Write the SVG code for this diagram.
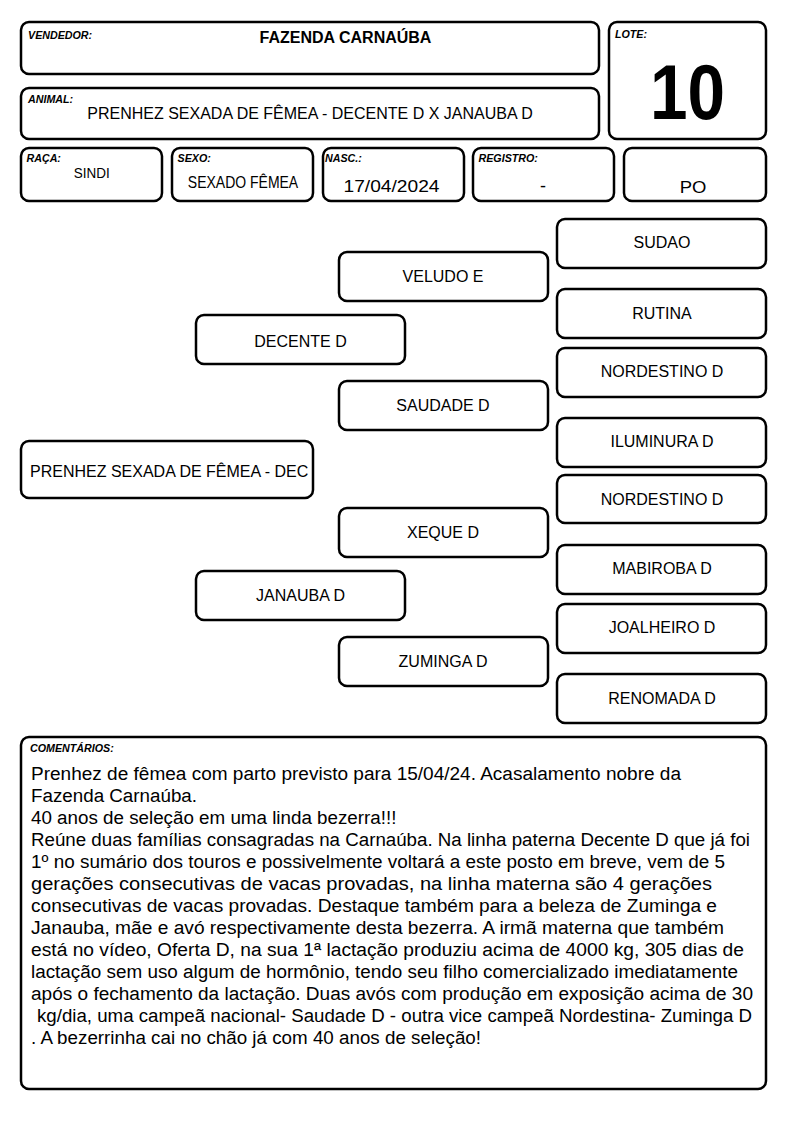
<svg xmlns="http://www.w3.org/2000/svg" width="794" height="1123" viewBox="0 0 794 1123">
<style>
.box{fill:#fff;stroke:#000;stroke-width:2.5}
.lab{font-family:"Liberation Sans",Arial,sans-serif;font-weight:bold;font-style:italic;font-size:10.7px;fill:#000}
.val{font-family:"Liberation Sans",Arial,sans-serif;fill:#000}
.node{font-family:"Liberation Sans",Arial,sans-serif;font-size:16px;fill:#000;text-anchor:middle}
.body{font-family:"Liberation Sans",Arial,sans-serif;font-size:18.8px;fill:#000}
</style>
<rect width="794" height="1123" fill="#fff"/>
<g id="vendedor">
<rect class="box" x="21" y="22" width="578" height="52" rx="8"/>
<text class="lab" x="28" y="39">VENDEDOR:</text>
<text class="val" x="345.5" y="43" font-size="16" font-weight="bold" text-anchor="middle">FAZENDA CARNAÚBA</text>
</g>
<g id="lote">
<rect class="box" x="609" y="22" width="157" height="117" rx="8"/>
<text class="lab" x="615" y="38">LOTE:</text>
<text class="val" transform="matrix(1 0 0 1.15 687.5 119)" font-size="67.5" font-weight="bold" text-anchor="middle">10</text>
</g>
<g id="animal">
<rect class="box" x="21" y="88" width="578" height="51" rx="8"/>
<text class="lab" x="28" y="103">ANIMAL:</text>
<text class="val" x="310" y="119" font-size="16" text-anchor="middle">PRENHEZ SEXADA DE FÊMEA - DECENTE D X JANAUBA D</text>
</g>
<g id="raca">
<rect class="box" x="21" y="148" width="141" height="53" rx="8"/>
<text class="lab" x="26.5" y="162">RAÇA:</text>
<text class="val" transform="matrix(1 0 0 1.15 91.7 178)" font-size="13.5" text-anchor="middle">SINDI</text>
</g>
<g id="sexo">
<rect class="box" x="172" y="148" width="141" height="53" rx="8"/>
<text class="lab" x="177.5" y="162">SEXO:</text>
<text class="val" transform="matrix(1 0 0 1.15 243 188)" font-size="14" text-anchor="middle">SEXADO FÊMEA</text>
</g>
<g id="nasc">
<rect class="box" x="323" y="148" width="141" height="53" rx="8"/>
<text class="lab" x="325" y="162">NASC.:</text>
<text class="val" transform="matrix(1 0 0 0.9 391.5 192)" font-size="19.2" text-anchor="middle">17/04/2024</text>
</g>
<g id="registro">
<rect class="box" x="473" y="148" width="141" height="53" rx="8"/>
<text class="lab" x="478.5" y="162">REGISTRO:</text>
<text class="val" x="543" y="192" font-size="18" text-anchor="middle">-</text>
</g>
<g id="po">
<rect class="box" x="624" y="148" width="142" height="53" rx="8"/>
<text class="val" transform="matrix(1 0 0 0.9 693 193)" font-size="18.5" text-anchor="middle">PO</text>
</g>
<g id="connectors"></g>
<g id="n-root">
<rect class="box" x="21" y="441" width="292" height="57" rx="8"/>
<text class="val" x="30" y="477" font-size="16">PRENHEZ SEXADA DE FÊMEA - DEC</text>
</g>
<g id="n-decente">
<rect class="box" x="196" y="315" width="209" height="49" rx="8"/>
<text class="node" x="300.5" y="346.5">DECENTE D</text>
</g>
<g id="n-janauba">
<rect class="box" x="196" y="571" width="209" height="49" rx="8"/>
<text class="node" x="300.5" y="601">JANAUBA D</text>
</g>
<g id="n-veludo">
<rect class="box" x="339" y="252" width="209" height="49" rx="8"/>
<text class="node" x="443" y="282.3">VELUDO E</text>
</g>
<g id="n-saudade">
<rect class="box" x="339" y="381" width="209" height="49" rx="8"/>
<text class="node" x="443" y="411">SAUDADE D</text>
</g>
<g id="n-xeque">
<rect class="box" x="339" y="508" width="209" height="49" rx="8"/>
<text class="node" x="443" y="538.3">XEQUE D</text>
</g>
<g id="n-zuminga">
<rect class="box" x="339" y="637" width="209" height="49" rx="8"/>
<text class="node" x="443" y="666.7">ZUMINGA D</text>
</g>
<g id="n-sudao">
<rect class="box" x="557" y="219" width="209" height="49" rx="8"/>
<text class="node" x="662" y="248.3">SUDAO</text>
</g>
<g id="n-rutina">
<rect class="box" x="557" y="289" width="209" height="49" rx="8"/>
<text class="node" x="662" y="319.3">RUTINA</text>
</g>
<g id="n-nordestino1">
<rect class="box" x="557" y="348" width="209" height="49" rx="8"/>
<text class="node" x="662" y="377">NORDESTINO D</text>
</g>
<g id="n-iluminura">
<rect class="box" x="557" y="418" width="209" height="49" rx="8"/>
<text class="node" x="662" y="447.3">ILUMINURA D</text>
</g>
<g id="n-nordestino2">
<rect class="box" x="557" y="475" width="209" height="48" rx="8"/>
<text class="node" x="662" y="505">NORDESTINO D</text>
</g>
<g id="n-mabiroba">
<rect class="box" x="557" y="545" width="209" height="49" rx="8"/>
<text class="node" x="662" y="574">MABIROBA D</text>
</g>
<g id="n-joalheiro">
<rect class="box" x="557" y="604" width="209" height="49" rx="8"/>
<text class="node" x="662" y="633.3">JOALHEIRO D</text>
</g>
<g id="n-renomada">
<rect class="box" x="557" y="674" width="209" height="49" rx="8"/>
<text class="node" x="662" y="704">RENOMADA D</text>
</g>
<g id="comentarios">
<rect class="box" x="21" y="737" width="745" height="352" rx="8"/>
<text class="lab" x="30" y="752">COMENTÁRIOS:</text>
<text class="body" x="31" y="779.5" textLength="650" lengthAdjust="spacingAndGlyphs">Prenhez de fêmea com parto previsto para 15/04/24. Acasalamento nobre da</text>
<text class="body" x="31" y="801.5">Fazenda Carnaúba.</text>
<text class="body" x="31" y="823.5">40 anos de seleção em uma linda bezerra!!!</text>
<text class="body" x="31" y="845.5" textLength="719" lengthAdjust="spacingAndGlyphs">Reúne duas famílias consagradas na Carnaúba. Na linha paterna Decente D que já foi</text>
<text class="body" x="31" y="867.5" textLength="694" lengthAdjust="spacingAndGlyphs">1º no sumário dos touros e possivelmente voltará a este posto em breve, vem de 5</text>
<text class="body" x="31" y="889.5" textLength="681" lengthAdjust="spacingAndGlyphs">gerações consecutivas de vacas provadas, na linha materna são 4 gerações</text>
<text class="body" x="31" y="911.5" textLength="686" lengthAdjust="spacingAndGlyphs">consecutivas de vacas provadas. Destaque também para a beleza de Zuminga e</text>
<text class="body" x="31" y="933.5" textLength="693" lengthAdjust="spacingAndGlyphs">Janauba, mãe e avó respectivamente desta bezerra. A irmã materna que também</text>
<text class="body" x="31" y="955.5" textLength="713" lengthAdjust="spacingAndGlyphs">está no vídeo, Oferta D, na sua 1ª lactação produziu acima de 4000 kg, 305 dias de</text>
<text class="body" x="31" y="977.5" textLength="707" lengthAdjust="spacingAndGlyphs">lactação sem uso algum de hormônio, tendo seu filho comercializado imediatamente</text>
<text class="body" x="31" y="999.5" textLength="722" lengthAdjust="spacingAndGlyphs">após o fechamento da lactação. Duas avós com produção em exposição acima de 30</text>
<text class="body" x="37" y="1021.5" textLength="715" lengthAdjust="spacingAndGlyphs">kg/dia, uma campeã nacional- Saudade D - outra vice campeã Nordestina- Zuminga D</text>
<text class="body" x="31" y="1043.5">. A bezerrinha cai no chão já com 40 anos de seleção!</text>
</g>
</svg>
